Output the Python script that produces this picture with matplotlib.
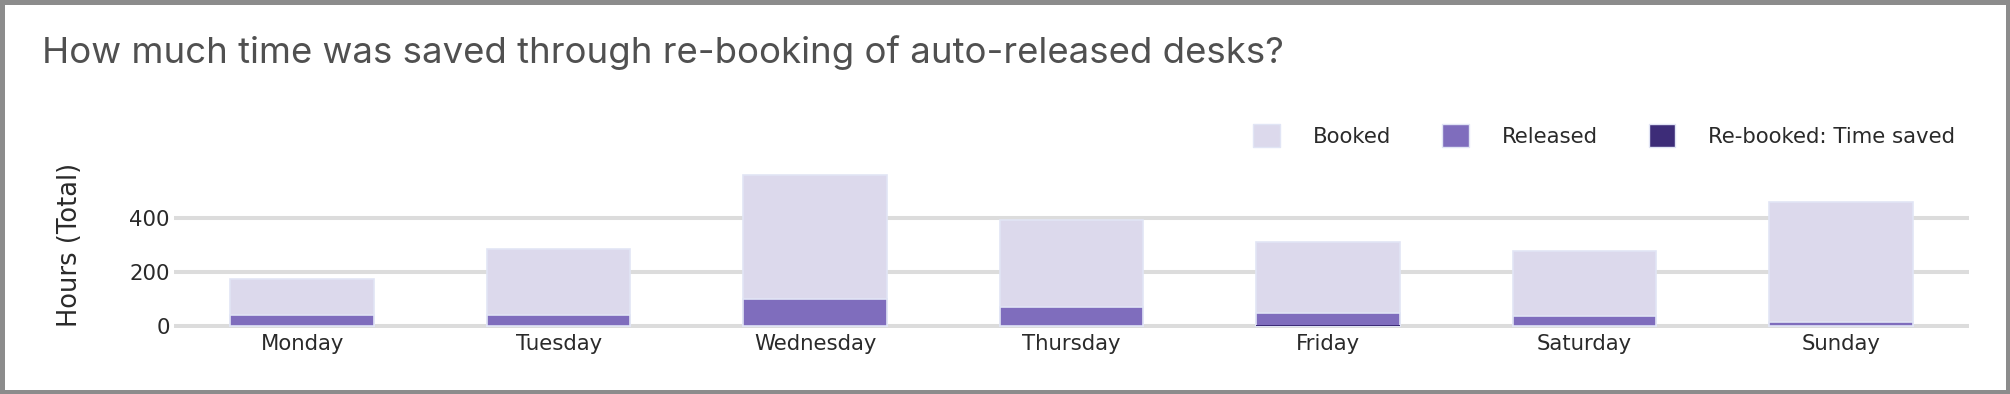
import numpy as np
import matplotlib.pyplot as plt
from matplotlib.patches import Patch

# datos
days = ['Monday', 'Tuesday', 'Wednesday', 'Thursday', 'Friday', 'Saturday', 'Sunday']
booked = [173, 283, 558, 392, 311, 278, 458]
released = [40, 40, 97, 69, 45, 36, 12]
rebooked = [0, 0, 0, 0, 3, 0, 0]

c_booked = '#dcd9ec'
c_released = '#7f6dbd'
c_rebooked = '#3d2c78'
c_edge = '#e1e5f5'

plt.rcParams['font.family'] = ['DejaVu Sans']

fig = plt.figure(figsize=(20.10, 3.94), dpi=100)
fig.patch.set_facecolor('white')
fig.patch.set_edgecolor('#8c8c8c')
fig.patch.set_linewidth(5.2)

ax = fig.add_axes([174 / 2010, 0.167, (1969 - 174) / 2010, 0.430])
x = np.arange(len(days))
w = 0.56

ax.bar(x, booked, width=w, color=c_booked, edgecolor=c_edge, linewidth=1.2, zorder=3)
ax.bar(x, released, width=w, color=c_released, edgecolor=c_edge, linewidth=1.2, zorder=4)
ax.bar(x, rebooked, width=w, color=c_rebooked, edgecolor='none', linewidth=0, zorder=5)

ax.set_xlim(-0.5, len(days) - 0.5)
ax.set_ylim(-10, 620)
ax.set_yticks([0, 200, 400])
ax.set_xticks(x)
ax.set_xticklabels(days)
ax.grid(axis='y', color='#dcdcdc', linewidth=2.9, zorder=0)
ax.set_axisbelow(True)
for s in ax.spines.values():
    s.set_visible(False)
ax.tick_params(axis='both', length=0, labelsize=15.3, colors='#2a2a2a')
ax.tick_params(axis='y', pad=3)
ax.tick_params(axis='x', pad=4)

fig.text(70 / 2010, 1 - 245 / 394, 'Hours (Total)', rotation=90, ha='center', va='center',
         fontsize=18.5, color='#2a2a2a')

fig.text(42 / 2010, 1 - 63 / 394, 'How much time was saved through re-booking of auto-released desks?',
         fontsize=26.3, color='#505050', ha='left', va='baseline', family=['Inter', 'DejaVu Sans'])

handles = [Patch(facecolor=c_booked, edgecolor=c_edge, label='Booked'),
           Patch(facecolor=c_released, edgecolor=c_edge, label='Released'),
           Patch(facecolor=c_rebooked, edgecolor=c_edge, label='Re-booked: Time saved')]
leg = fig.legend(handles=handles, loc='center right', bbox_to_anchor=(1955 / 2010, 1 - 135.5 / 394),
                 ncol=3, frameon=False, fontsize=15.3, handlelength=1.25, handleheight=1.25,
                 handletextpad=1.55, columnspacing=2.4, borderpad=0, borderaxespad=0)
for t in leg.get_texts():
    t.set_color('#2a2a2a')

fig.savefig('out.png', dpi=100)
